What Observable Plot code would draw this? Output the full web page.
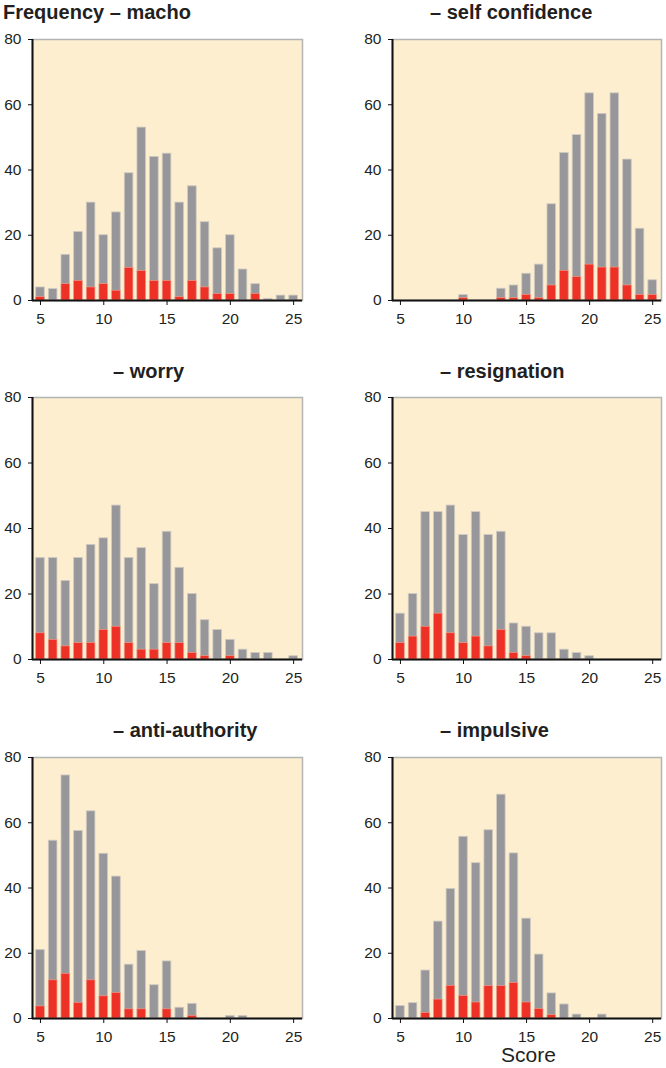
<!DOCTYPE html>
<html>
<head>
<meta charset="utf-8">
<script src="https://cdn.jsdelivr.net/npm/d3@7"></script>
<script src="https://cdn.jsdelivr.net/npm/@observablehq/plot@0.6"></script>
<style>
  html, body { margin: 0; padding: 0; background: #ffffff; }
  #root { position: relative; width: 666px; height: 1068px; font-family: "Liberation Sans", Arial, sans-serif; color: #231f20; }
  .title { position: absolute; font-size: 20px; font-weight: bold; white-space: nowrap; line-height: 1; }
  .panel { position: absolute; }
  .panel text { font-size: 15.5px !important; font-family: "Liberation Sans", Arial, sans-serif !important; }
  .xlabel { position: absolute; font-size: 21px; white-space: nowrap; line-height: 1; }
</style>
</head>
<body>
<div id="root"></div>
<script>
// Score categories
const scores = [5, 6, 7, 8, 9, 10, 11, 12, 13, 14, 15, 16, 17, 18, 19, 20, 21, 22, 23, 24, 25];

// Panel titles
const titles = ["Frequency \u2013 macho", "\u2013 self confidence", "\u2013 worry", "\u2013 resignation", "\u2013 anti-authority", "\u2013 impulsive"];

// Total frequency (grey bars) per score
const machoTotal      = [4, 3.5, 14, 21, 30, 20, 27, 39, 53, 44, 45, 30, 35, 24, 16, 20, 9.5, 5, 0.5, 1.5, 1.5];
const selfConfTotal   = [0, 0, 0, 0, 0, 1.7, 0, 0, 3.6, 4.6, 8.2, 11, 29.5, 45.2, 50.7, 63.5, 57.2, 63.5, 43.2, 22, 6.2];
const worryTotal      = [31, 31, 24, 31, 35, 37, 47, 31, 34, 23, 39, 28, 20, 12, 9, 6, 3, 2, 2, 0, 1];
const resignTotal     = [14, 20, 45, 45, 47, 38, 45, 38, 39, 11, 10, 8, 8, 3, 2, 1, 0, 0, 0, 0, 0];
const antiAuthTotal   = [21, 54.5, 74.5, 57.5, 63.5, 50.5, 43.5, 16.5, 20.7, 10.2, 17.5, 3.3, 4.5, 0, 0, 0.8, 0.8, 0, 0, 0, 0];
const impulsiveTotal  = [3.8, 4.7, 14.7, 29.7, 39.7, 55.7, 47.6, 57.7, 68.6, 50.6, 30.6, 19.6, 7.7, 4.3, 1.2, 0, 1.2, 0, 0, 0, 0];

// Subgroup frequency (red bars) per score
const machoRed        = [1, 0, 5, 6, 4, 5, 3, 10, 9, 6, 6, 1, 6, 4, 2, 2, 0, 2, 0, 0, 0];
const selfConfRed     = [0, 0, 0, 0, 0, 0.7, 0, 0, 0.7, 0.7, 1.7, 0.7, 4.6, 9.1, 7.2, 11, 10.1, 10.1, 4.6, 1.7, 1.7];
const worryRed        = [8, 6, 4, 5, 5, 9, 10, 5, 3, 3, 5, 5, 2, 1, 0, 1, 0, 0, 0, 0, 0];
const resignRed       = [5, 7, 10, 14, 8, 5, 7, 4, 9, 2, 1, 0, 0, 0, 0, 0, 0, 0, 0, 0, 0];
const antiAuthRed     = [3.7, 11.7, 13.7, 4.8, 11.7, 6.8, 7.8, 2.8, 2.8, 0, 2.8, 0, 0.8, 0, 0, 0, 0, 0, 0, 0, 0];
const impulsiveRed    = [0, 0, 1.7, 5.8, 10, 6.9, 4.9, 9.9, 9.9, 10.9, 4.9, 2.9, 1, 0, 0, 0, 0, 0, 0, 0, 0];

// Axis ticks
const xTicks = [5, 10, 15, 20, 25];
const yTicks = [0, 20, 40, 60, 80];

const totals = [machoTotal, selfConfTotal, worryTotal, resignTotal, antiAuthTotal, impulsiveTotal];
const reds = [machoRed, selfConfRed, worryRed, resignRed, antiAuthRed, impulsiveRed];

// Layout (pixels)
const cols = [
  {left: 0, width: 333, marginLeft: 32, marginRight: 31},
  {left: 333, width: 333, marginLeft: 59, marginRight: 5}
];
const rows = [
  {plotTop: 39, plotH: 261},
  {plotTop: 397, plotH: 262},
  {plotTop: 757, plotH: 261}
];
const titlePos = [
  {x: 3, baseline: 18}, {x: 430, baseline: 18},
  {x: 113, baseline: 377}, {x: 440, baseline: 377},
  {x: 113, baseline: 736}, {x: 440, baseline: 736}
];

const GREY = "#97979b";
const RED = "#ee3126";
const BG = "#fdeecf";
const halfBar = 0.34;
const mT = 10, mB = 30;
const xDomain = [4.37, 25.7];

const root = document.getElementById("root");

titles.forEach((t, i) => {
  const row = rows[Math.floor(i / 2)];
  const col = cols[i % 2];
  const data = scores.map((s, j) => ({score: s, total: totals[i][j], red: reds[i][j]}));

  const chart = Plot.plot({
    width: col.width,
    height: mT + row.plotH + mB,
    marginLeft: col.marginLeft,
    marginRight: col.marginRight,
    marginTop: mT,
    marginBottom: mB,
    style: {fontFamily: "Liberation Sans, Arial, sans-serif", fontSize: "15.5px", color: "#231f20", background: "transparent", overflow: "visible"},
    x: {domain: xDomain},
    y: {domain: [0, 80]},
    marks: [
      Plot.frame({fill: BG, stroke: "#b4b4b4", strokeWidth: 1.5}),
      Plot.rectY(data.filter(d => d.total > 0), {
        x1: d => d.score - halfBar, x2: d => d.score + halfBar,
        y1: 0, y2: "total", fill: GREY, stroke: "#cfcac1", strokeWidth: 0.8
      }),
      Plot.rectY(data.filter(d => d.red > 0), {
        x1: d => d.score - halfBar, x2: d => d.score + halfBar,
        y1: 0, y2: "red", fill: RED, stroke: "#f5a08e", strokeWidth: 0.6
      }),
      Plot.ruleY([0], {stroke: "#111", strokeWidth: 2}),
      Plot.ruleX([xDomain[0]], {stroke: "#111", strokeWidth: 2}),
      Plot.axisY({ticks: yTicks, tickSize: 4, tickPadding: 7, label: null, stroke: "#111", fill: "#231f20"}),
      Plot.axisX({ticks: xTicks, tickSize: 5, tickPadding: 7, label: null, stroke: "#111", fill: "#231f20"})
    ]
  });
  chart.classList.add("panel");
  chart.style.left = col.left + "px";
  chart.style.top = (row.plotTop - mT) + "px";
  root.appendChild(chart);

  const tp = titlePos[i];
  const div = document.createElement("div");
  div.className = "title";
  div.textContent = t;
  div.style.left = tp.x + "px";
  div.style.top = (tp.baseline - 16) + "px";
  root.appendChild(div);
});

const xl = document.createElement("div");
xl.className = "xlabel";
xl.textContent = "Score";
xl.style.left = "501px";
xl.style.top = "1044px";
root.appendChild(xl);
</script>
</body>
</html>
